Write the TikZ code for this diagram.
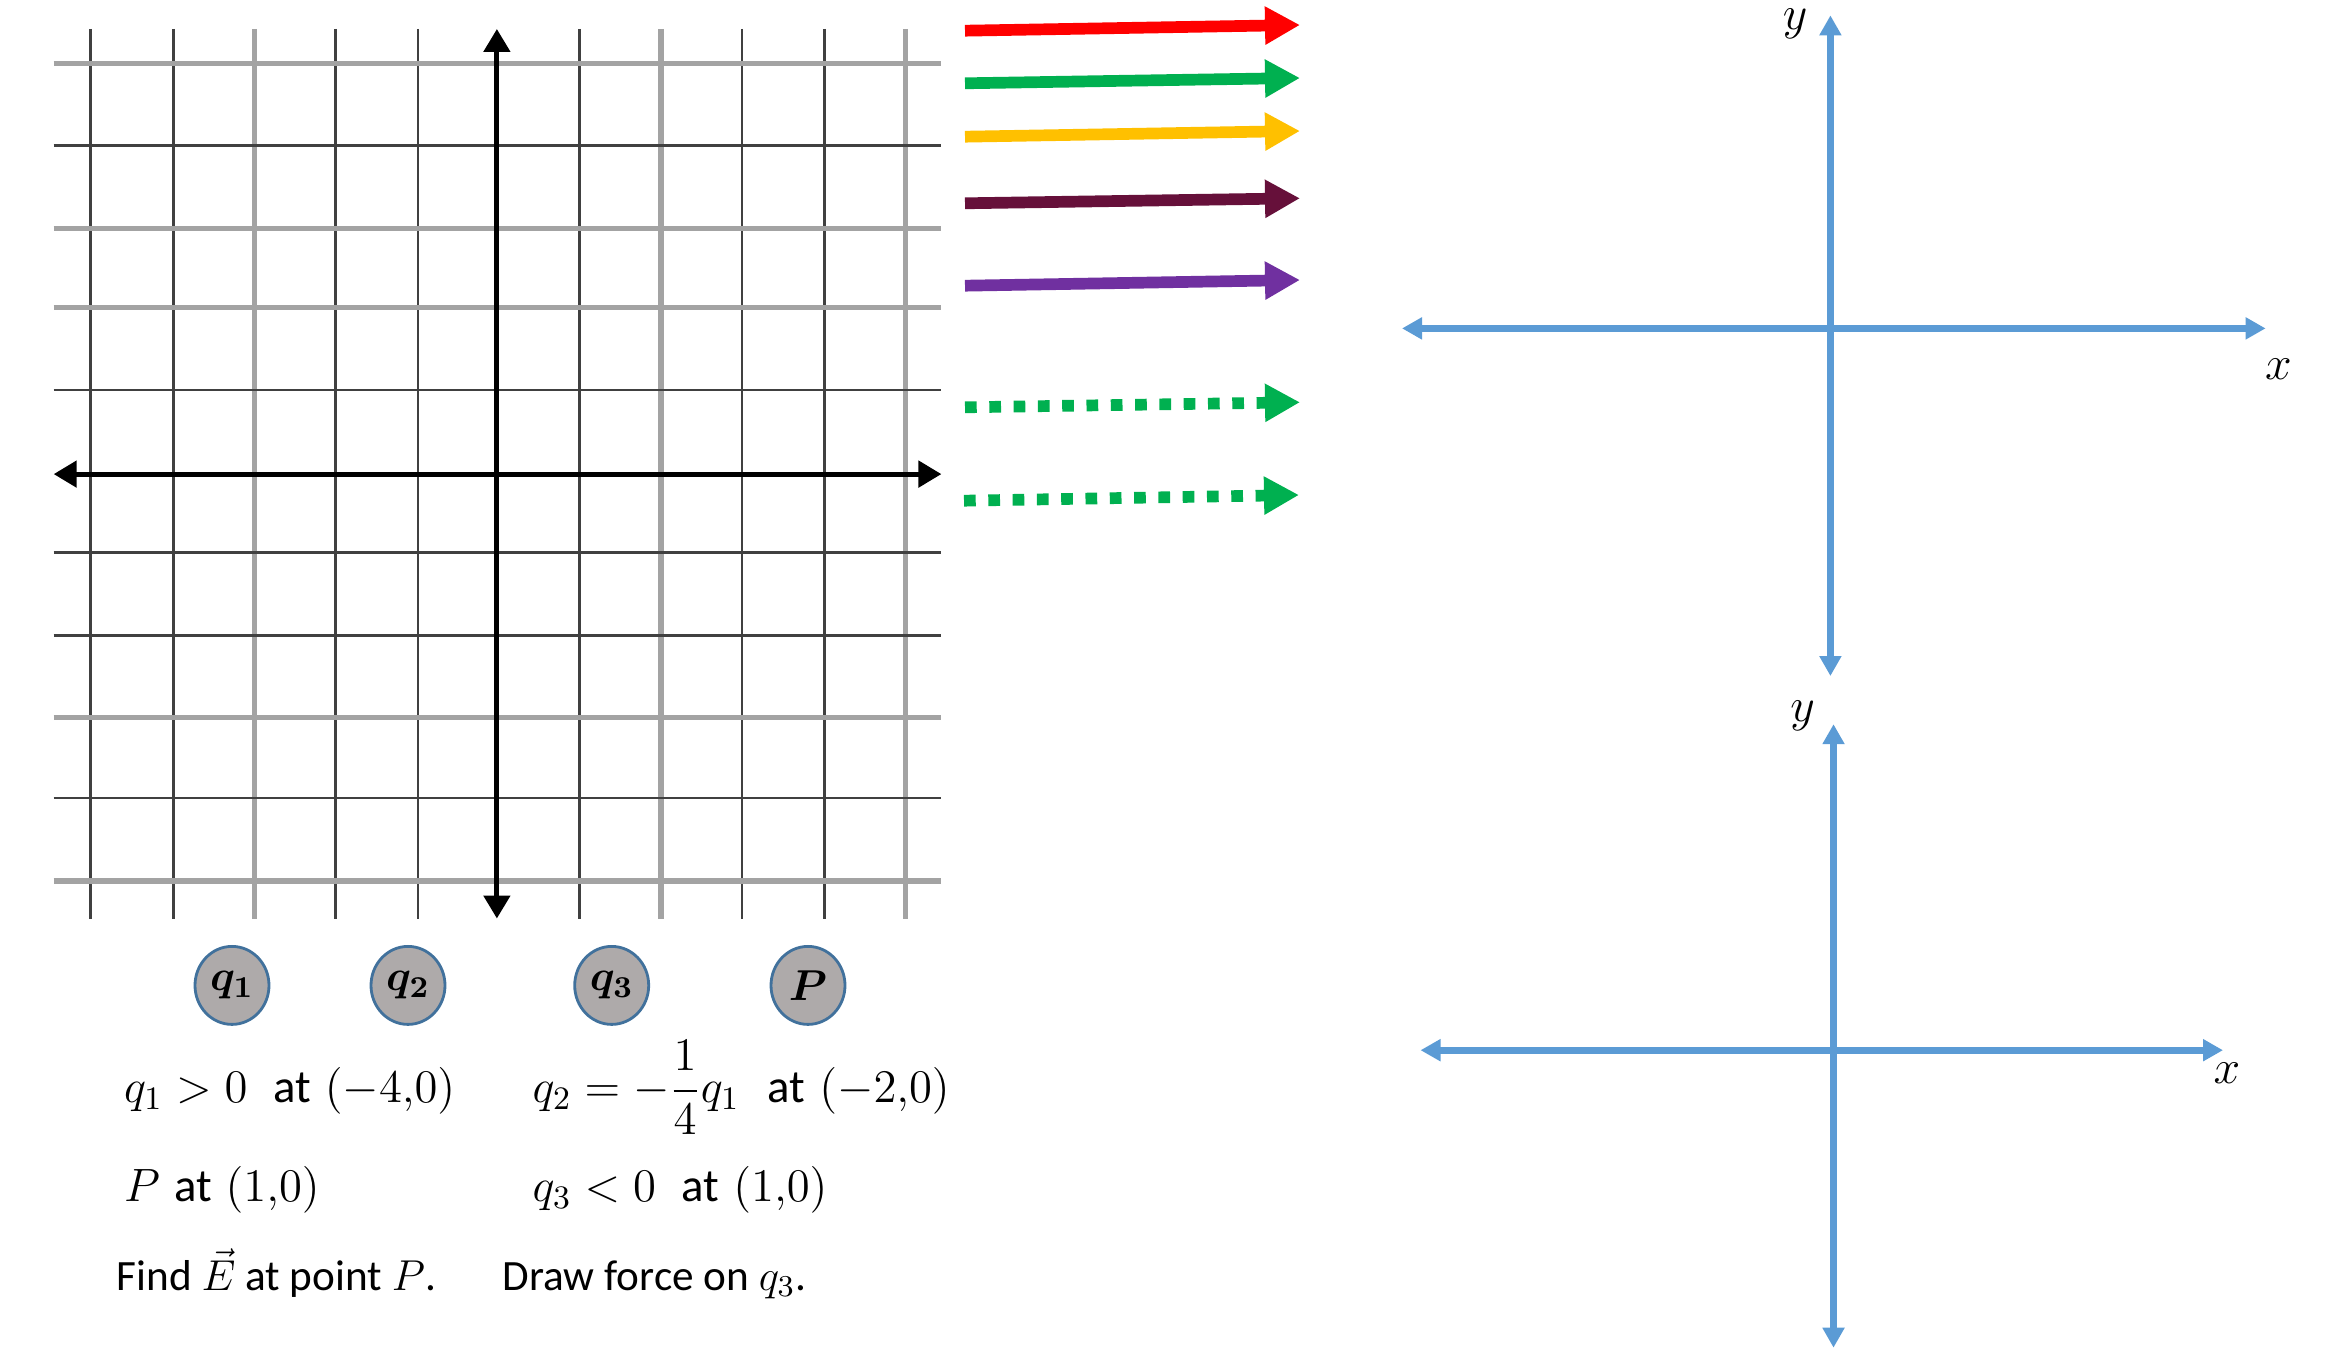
\RequirePackage{fix-cm}
\documentclass[tikz,border=0pt]{standalone}
\usepackage[no-math]{fontspec}
\setmainfont{Carlito}
\usepackage{amsmath}
\usetikzlibrary{arrows.meta,shapes.geometric}
\definecolor{axisblue}{HTML}{5B9BD5}
\definecolor{chargefill}{HTML}{AEAAAA}
\definecolor{chargeline}{HTML}{41719C}
\definecolor{fgreen}{HTML}{00B050}
\definecolor{fyellow}{HTML}{FFC000}
\definecolor{fmaroon}{HTML}{66103A}
\definecolor{fpurple}{HTML}{7030A0}
\begin{document}
\begin{tikzpicture}[x=0.1mm,y=-0.1mm,
  font=\fontsize{12.3}{15}\selectfont,
  darkline/.style={draw=black!75,line width=0.26mm},
  lightline/.style={draw=black!36,line width=0.55mm},
  gridaxis/.style={line width=0.5mm,{Triangle[length=2.3mm,width=2.6mm]}-{Triangle[length=2.3mm,width=2.6mm]}},
  blueaxis/.style={draw=axisblue,line width=0.74mm,{Triangle[length=2mm,width=2.1mm]}-{Triangle[length=2mm,width=2.1mm]}},
  charge/.style={ellipse,draw=chargeline,fill=chargefill,line width=0.8pt,minimum width=7.4mm,minimum height=7.8mm,inner sep=0pt},
  force/.style={line width=1.17mm,-{Triangle[length=3.5mm,width=3.6mm]}},
  dotforce/.style={force,dash pattern=on 1.17mm off 1.26mm},
  txt/.style={anchor=base west,inner sep=0pt},
  cond/.style={txt,font=\fontsize{13.3}{16}\selectfont},
  axlabel/.style={inner sep=0pt,font=\fontsize{13.6}{16}\selectfont}]
\useasboundingbox (0,0) rectangle (2328,1362);
% grid
\foreach \gx in {90.7,173.5,335.2,417.9,579.6,742,824.7}
  \draw[darkline] (\gx,29) -- (\gx,918.5);
\foreach \gx in {254.3,661.1,905.6}
  \draw[lightline] (\gx,29) -- (\gx,918.5);
\foreach \gy in {145.7,390.1,552.5,635.2,798.1}
  \draw[darkline] (53.7,\gy) -- (941.4,\gy);
\foreach \gy in {63.6,228.4,307.4,717.3,880.9}
  \draw[lightline] (53.7,\gy) -- (941.4,\gy);
\coordinate (gl) at (53.7,474.1);
\coordinate (gr) at (941.4,474.1);
\coordinate (gt) at (496.9,29);
\coordinate (gb) at (496.9,918.5);
\draw[gridaxis] (gl) -- (gr);
\draw[gridaxis] (gb) -- (gt);
% charges
\node[charge] (q1) at (232,985.4) {$\boldsymbol{q_1}$};
\node[charge] (q2) at (408,985.4) {$\boldsymbol{q_2}$};
\node[charge] (q3) at (611.7,985.4) {$\boldsymbol{q_3}$};
\node[charge] (P) at (808,985.4) {$\boldsymbol{P}$};
% conditions
\node[cond] (cq1) at (123.5,1102.6) {$q_1>0\hspace{0.55em}\text{at}\hspace{0.3em}(-4{,}0)$};
\node[cond] (cq2) at (532,1102.6) {$q_2=-\dfrac{1}{4}q_1\hspace{0.6em}\text{at}\hspace{0.3em}(-2{,}0)$};
\node[cond] (cP) at (123.5,1201.4) {$P\hspace{0.3em}\text{at}\hspace{0.3em}(1{,}0)$};
\node[cond] (cq3) at (532,1201.4) {$q_3<0\hspace{0.55em}\text{at}\hspace{0.3em}(1{,}0)$};
\node[txt] (findE) at (116,1290.3) {Find $\vec{E}$ at point $P$.};
\node[txt] (findF) at (501.9,1290.3) {Draw force on $q_3$.};
% force arrows
\foreach \c/\ya/\yb [count=\i] in {red/30.7/25,fgreen/83.3/78,fyellow/136.7/131,fmaroon/203.3/198.3,fpurple/285.7/280}{
  \coordinate (f\i a) at (965,\ya);
  \coordinate (f\i b) at (1300,\yb);
  \draw[force,\c] (f\i a) -- (f\i b);
}
\coordinate (d1a) at (965,407.3);
\coordinate (d1b) at (1300,402.3);
\coordinate (d2a) at (964,500.7);
\coordinate (d2b) at (1299,495);
\draw[dotforce,fgreen] (d1a) -- (d1b);
\draw[dotforce,fgreen] (d2a) -- (d2b);
% upper axes
\coordinate (ul) at (1402,328.4);
\coordinate (ur) at (2265.6,328.4);
\coordinate (ut) at (1830.4,15.4);
\coordinate (ub) at (1830.4,676);
\draw[blueaxis] (ul) -- (ur);
\draw[blueaxis] (ub) -- (ut);
\node[axlabel] (uy) at (1795,24) {$y$};
\node[axlabel] (ux) at (2278.5,369) {$x$};
% lower axes
\coordinate (ll) at (1420.5,1050.2);
\coordinate (lr) at (2223,1050.2);
\coordinate (lt) at (1833.5,724.2);
\coordinate (lb) at (1833.5,1347.7);
\draw[blueaxis] (ll) -- (lr);
\draw[blueaxis] (lb) -- (lt);
\node[axlabel] (ly) at (1802.6,716.2) {$y$};
\node[axlabel] (lx) at (2227,1073) {$x$};
\end{tikzpicture}
\end{document}
